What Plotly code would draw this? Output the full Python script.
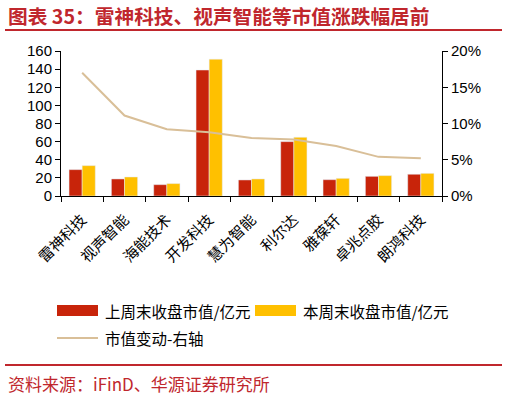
import plotly.graph_objects as go

categories = ["雷神科技", "视声智能", "海能技术", "开发科技", "慧为智能", "利尔达", "雅葆轩", "卓兆点胶", "朗鸿科技"]
last_week = [29.1, 18.8, 12.5, 139, 17.7, 60, 18, 21.7, 24]
this_week = [33.5, 21, 13.7, 151, 18.8, 64.8, 19.5, 22.5, 25]
change = [0.170, 0.111, 0.092, 0.088, 0.080, 0.078, 0.069, 0.054, 0.052]

RED = "#C8240A"
YEL = "#FFC000"
TAN = "#D9BF98"
TITLE_RED = "#C0272D"
FONT = "Liberation Sans, Arial, Noto Sans CJK SC"
CJK = "Noto Sans CJK SC"

fig = go.Figure()
fig.add_trace(go.Bar(x=categories, y=last_week, name="上周末收盘市值/亿元", marker_color=RED, showlegend=False))
fig.add_trace(go.Bar(x=categories, y=this_week, name="本周末收盘市值/亿元", marker_color=YEL, showlegend=False))
fig.add_trace(go.Scatter(x=categories, y=change, name="市值变动-右轴", mode="lines",
                         line=dict(color=TAN, width=2), yaxis="y2", showlegend=False))

fig.update_layout(
    width=507, height=397,
    margin=dict(l=61, r=65, t=51, b=201, autoexpand=False),
    plot_bgcolor="white", paper_bgcolor="white",
    bargap=0.38, bargroupgap=0,
    font=dict(family=FONT, size=15, color="black"),
    xaxis=dict(type="category", showline=True, linecolor="black", linewidth=1, automargin=False,
               ticks="outside", tickson="boundaries", ticklen=5, tickcolor="black",
               ticklabelstandoff=8,
               tickangle=-45, tickfont=dict(family=CJK, size=15), showgrid=False),
    yaxis=dict(range=[0, 160], dtick=20, showline=True, linecolor="black", linewidth=1, automargin=False,
               ticks="outside", ticklen=5, tickcolor="black", showgrid=False, zeroline=False,
               tickfont=dict(family=FONT, size=15)),
    yaxis2=dict(range=[0, 0.2], dtick=0.05, tickformat=".0%", overlaying="y", side="right",
                showline=True, linecolor="black", linewidth=1, ticks="outside", ticklen=5, automargin=False,
                tickcolor="black", showgrid=False, zeroline=False,
                tickfont=dict(family=FONT, size=15)),
)

plot_l, plot_r, plot_t, plot_b = 61, 442, 51, 196
def sx(x):
    return (x - plot_l) / (plot_r - plot_l)
def sy(y):
    return (plot_b - y) / (plot_b - plot_t)

shapes = []
annotations = []
annotations.append(dict(text="<b>图表 35：雷神科技、视声智能等市值涨跌幅居前</b>", xref="paper", yref="paper",
                        x=sx(6), y=sy(16), xanchor="left", yanchor="middle", showarrow=False,
                        font=dict(family=CJK, size=19.7, color=TITLE_RED)))
shapes.append(dict(type="line", xref="paper", yref="paper", x0=sx(5), x1=sx(502), y0=sy(30), y1=sy(30),
                   line=dict(color=TITLE_RED, width=2)))
shapes.append(dict(type="line", xref="paper", yref="paper", x0=sx(5), x1=sx(502), y0=sy(365), y1=sy(365),
                   line=dict(color=TITLE_RED, width=2)))
shapes.append(dict(type="rect", xref="paper", yref="paper", x0=sx(57), x1=sx(98), y0=sy(316), y1=sy(305),
                   fillcolor=RED, line=dict(width=0)))
shapes.append(dict(type="rect", xref="paper", yref="paper", x0=sx(255), x1=sx(296), y0=sy(316), y1=sy(305),
                   fillcolor=YEL, line=dict(width=0)))
shapes.append(dict(type="line", xref="paper", yref="paper", x0=sx(57), x1=sx(98), y0=sy(338), y1=sy(338),
                   line=dict(color=TAN, width=2)))
for txt, x, y in [("上周末收盘市值/亿元", 103, 311), ("本周末收盘市值/亿元", 301, 311), ("市值变动-右轴", 103, 338)]:
    annotations.append(dict(text=txt, xref="paper", yref="paper", x=sx(x), y=sy(y), xanchor="left",
                            yanchor="middle", showarrow=False, font=dict(family=CJK, size=15.5, color="black")))
annotations.append(dict(text="资料来源：iFinD、华源证券研究所", xref="paper", yref="paper", x=sx(6), y=sy(383),
                        xanchor="left", yanchor="middle", showarrow=False,
                        font=dict(family=CJK, size=17, color=TITLE_RED)))

fig.update_layout(shapes=shapes, annotations=annotations)
post = """
document.body.style.margin='0';
document.body.style.overflow='hidden';
"""
fig.write_html("out.html", post_script=post, config={"displayModeBar": False})
